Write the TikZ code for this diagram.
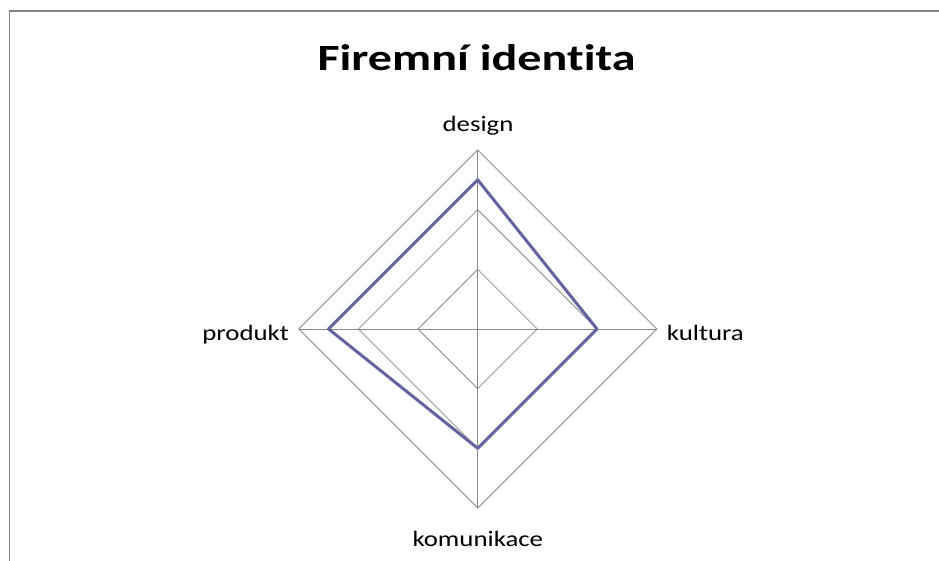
\documentclass[tikz,border=0pt]{standalone}
\usepackage{fontspec}
\setmainfont{Carlito}
\newfontfamily\RADtitlefont[FakeStretch=1.3, Ligatures=CommonOff]{Carlito}
\newfontfamily\RADlabelfont[FakeStretch=1.22, Ligatures=CommonOff]{Carlito}
\definecolor{RADgrid}{HTML}{8A8A8A}
\definecolor{RADframe}{HTML}{868686}
\definecolor{RADline}{HTML}{64649E}
\usetikzlibrary{calc, positioning}

\begin{document}
\begin{tikzpicture}[x=1pt, y=-1pt,
      gridline/.style={RADgrid, line width=0.8pt},
      axislabel/.style={font=\RADlabelfont\fontsize{22}{26}\selectfont, inner sep=0pt}]
      \useasboundingbox (0,0) rectangle (939,561);
      % Chart frame
      \draw[RADframe, line width=1.5pt] (9.5,561) -- (9.5,11) -- (939,11);
      % Centre and axis ends
      \coordinate (C) at (477.7,329);
      \coordinate (D) at ($(C)+(0,-179)$);
      \coordinate (K) at ($(C)+(179,0)$);
      \coordinate (M) at ($(C)+(0,179)$);
      \coordinate (P) at ($(C)+(-179,0)$);
      % Grid rings
      \foreach \lvl in {1,2,3} {
         \draw[gridline] ($(C)!\lvl/3!(D)$) -- ($(C)!\lvl/3!(K)$) -- ($(C)!\lvl/3!(M)$) -- ($(C)!\lvl/3!(P)$) -- cycle;
      }
      % Spokes
      \foreach \ax in {D,K,M,P} \draw[gridline] (C) -- (\ax);
      % Data series
      \draw[RADline, line width=3pt, line join=round]
         ($(C)!2.5/3!(D)$) -- ($(C)!2/3!(K)$) -- ($(C)!2/3!(M)$) -- ($(C)!2.5/3!(P)$) -- cycle;
      % Title
      \node[anchor=base, inner sep=0pt, font=\RADtitlefont\fontsize{37}{44}\selectfont\bfseries] (title) at (476.5,70.5) {Firemní identita};
      % Axis labels
      \node[axislabel, anchor=base] (design) at (478,132) {design};
      \node[axislabel, anchor=base west] (kultura) at (666.7,340.3) {kultura};
      \node[axislabel, anchor=base] (komunikace) at (477.8,546) {komunikace};
      \node[axislabel, anchor=base east] (produkt) at (289,340.3) {produkt};
\end{tikzpicture}
\end{document}
